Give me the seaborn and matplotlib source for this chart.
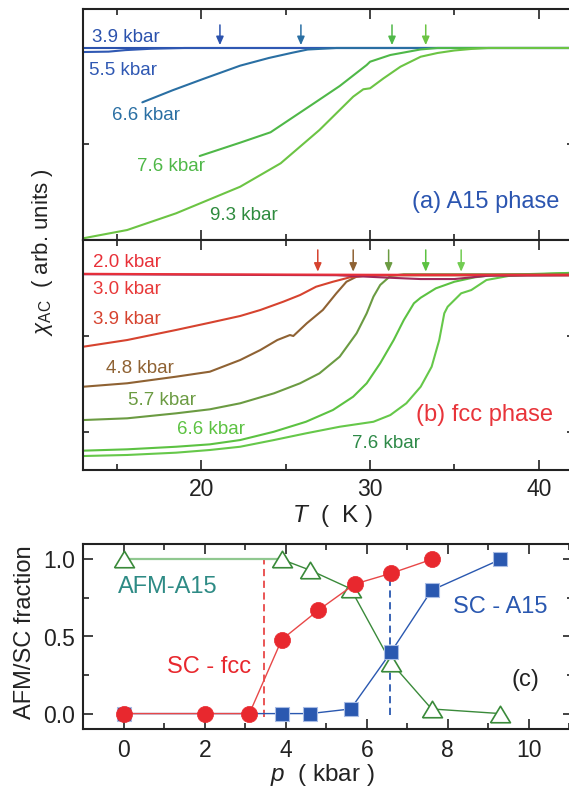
import matplotlib
matplotlib.use('Agg')
import matplotlib.pyplot as plt
from matplotlib.ticker import MultipleLocator, NullFormatter
import seaborn as sns

sns.set_style('ticks')
plt.rcParams['font.family'] = ['Liberation Sans', 'DejaVu Sans']
plt.rcParams['mathtext.fontset'] = 'custom'
plt.rcParams['mathtext.rm'] = 'Liberation Sans'
plt.rcParams['mathtext.it'] = 'Liberation Sans:italic'
plt.rcParams['mathtext.bf'] = 'Liberation Sans:bold'

# ---------------- data : panel (a) A15 phase ----------------
a15_labels = ['3.9 kbar', '5.5 kbar', '6.6 kbar', '7.6 kbar', '9.3 kbar']
a39_T = [13, 42]
a39_chi = [2.0, 2.0]
a55_T = [13, 14.5, 15.5, 17, 19, 42]
a55_chi = [1.958, 1.962, 1.978, 1.992, 2.0, 2.0]
a66_T = [16.5, 18.3, 20.1, 22.3, 24.0, 25.4, 26.3, 28, 42]
a66_chi = [1.434, 1.56, 1.677, 1.816, 1.896, 1.951, 1.984, 2.0, 2.0]
a76_T = [19.9, 22.3, 24.1, 25.25, 26.7, 28.2, 29.8, 30.0, 31.2, 33.0, 34, 42]
a76_chi = [0.875, 1.014, 1.122, 1.257, 1.427, 1.604, 1.823, 1.857, 1.927, 1.985, 2.0, 2.0]
a93_T = [13, 15.6, 18.5, 22.3, 24.7, 27.0, 29.0, 29.6, 30.0, 30.8, 31.8, 33.0, 34, 35, 36, 37, 42]
a93_chi = [0.018, 0.104, 0.278, 0.555, 0.799, 1.146, 1.493, 1.57, 1.58, 1.684, 1.805,
           1.909, 1.948, 1.974, 1.99, 2.0, 2.0]
a15_arrow_T = [21.1, 25.9, 31.3, 33.3]

# ---------------- data : panel (b) fcc phase ----------------
fcc_labels = ['2.0 kbar', '3.0 kbar', '3.9 kbar', '4.8 kbar', '5.7 kbar', '6.6 kbar', '7.6 kbar']
f20_T = [13, 20, 30, 42]
f20_chi = [1.65, 1.645, 1.64, 1.64]
f30_T = [13, 20, 28, 31, 33, 35, 37, 42]
f30_chi = [1.645, 1.64, 1.635, 1.61, 1.595, 1.595, 1.63, 1.635]
f39_T = [13, 15.6, 18.5, 20.5, 22.3, 23.5, 24.85, 25.85, 26.8, 27.8, 28.8, 30, 42]
f39_chi = [0.888, 0.958, 1.063, 1.139, 1.209, 1.272, 1.358, 1.428, 1.515, 1.567, 1.613, 1.635, 1.635]
f48_T = [13, 15.6, 18.5, 20.5, 22.3, 23.5, 24.5, 25.25, 25.45, 26.25, 27.2, 28.0, 28.6, 29.2, 30, 42]
f48_chi = [0.47, 0.506, 0.575, 0.627, 0.749, 0.854, 0.958, 1.010, 1.00, 1.133, 1.272, 1.446,
           1.567, 1.620, 1.635, 1.635]
f57_T = [13, 15.6, 18.5, 20.5, 22.3, 24.3, 25.85, 27.0, 28.2, 29.2, 29.8, 30.2, 30.6, 31.2, 32, 42]
f57_chi = [0.122, 0.14, 0.192, 0.234, 0.297, 0.401, 0.506, 0.61, 0.784, 1.028, 1.237, 1.411,
           1.533, 1.627, 1.645, 1.645]
f66_T = [13, 15.6, 18.5, 20.5, 22.3, 24.3, 26.2, 27.8, 29.0, 29.8, 30.6, 31.4, 32.0, 32.6,
         33.0, 33.9, 35.0, 36.2, 37.3, 39, 42]
f66_chi = [-0.198, -0.184, -0.157, -0.132, -0.087, 0.0, 0.104, 0.227, 0.366, 0.506, 0.715,
           0.958, 1.167, 1.342, 1.40, 1.498, 1.567, 1.613, 1.637, 1.645, 1.66]
f76_T = [13, 15.6, 18.5, 20.5, 22.3, 24.3, 26.2, 28.2, 30.2, 31.2, 32.15, 33.0, 33.65, 34.1,
         34.4, 34.6, 35.4, 36.0, 36.9, 38.2, 40, 42]
f76_chi = [-0.254, -0.243, -0.219, -0.191, -0.157, -0.087, -0.017, 0.052, 0.104, 0.174, 0.297,
           0.47, 0.679, 0.958, 1.237, 1.306, 1.446, 1.48, 1.585, 1.627, 1.645, 1.66]
fcc_arrow_T = [26.9, 29.0, 31.1, 33.3, 35.4]

# ---------------- data : panel (c) fractions ----------------
afm_p = [0, 3.9, 4.6, 5.6, 6.6, 7.6, 9.3]
afm_frac = [1.0, 1.0, 0.93, 0.81, 0.33, 0.03, 0.0]
scfcc_p = [0, 2.0, 3.1, 3.9, 4.8, 5.7, 6.6, 7.6]
scfcc_frac = [0.0, 0.0, 0.0, 0.48, 0.67, 0.84, 0.91, 1.0]
sca15_p = [0, 3.9, 4.6, 5.6, 6.6, 7.6, 9.3]
sca15_frac = [0.0, 0.0, 0.0, 0.03, 0.40, 0.80, 1.0]
fcc_onset_p = 3.45
a15_onset_p = 6.58

# ---------------- figure ----------------
W, H = 569, 787
fig = plt.figure(figsize=(W / 100, H / 100), dpi=100)


def box(l, t, r, b):
    return [l / W, 1 - b / H, (r - l) / W, (b - t) / H]


def px(x, y):
    return x / W, 1 - y / H


axa = fig.add_axes(box(83.3, 9.3, 572.5, 240))
axb = fig.add_axes(box(83.3, 240, 572.5, 470))
axc = fig.add_axes(box(83.3, 544, 573.4, 729))

frame_c = '#222222'
for ax in (axa, axb, axc):
    for s in ax.spines.values():
        s.set_linewidth(1.5)
        s.set_color(frame_c)
    ax.tick_params(which='both', direction='in', top=True, right=True,
                   color=frame_c, width=1.2, labelsize=16.5, labelcolor='#222222')
    ax.tick_params(which='major', length=7)
    ax.tick_params(which='minor', length=4.3)

# panel (a)
c39, c55, c66, c76a, c93 = '#2b52ad', '#2f58b3', '#2a6fa3', '#4fb848', '#6cc444'
for T, chi, c in [(a39_T, a39_chi, c39), (a55_T, a55_chi, c55), (a66_T, a66_chi, c66),
                  (a76_T, a76_chi, c76a), (a93_T, a93_chi, c93)]:
    sns.lineplot(x=T, y=chi, ax=axa, color=c, lw=1.5, sort=False, estimator=None)
for T, c in zip(a15_arrow_T, [c39, c66, c76a, c93]):
    axa.annotate('', xy=(T, 2.03), xytext=(T, 2.24),
                 arrowprops=dict(arrowstyle='-|>,head_length=0.5,head_width=0.22',
                                 color=c, lw=1.1, shrinkA=0, shrinkB=0))
axa.set_xlim(13, 42)
axa.set_ylim(0, 2.403)
axa.set_yticks([1, 2])
axa.yaxis.set_major_formatter(NullFormatter())
axa.tick_params(axis='y', which='major', length=4.3)
axa.xaxis.set_major_locator(MultipleLocator(10))
axa.xaxis.set_minor_locator(MultipleLocator(5))
axa.xaxis.set_major_formatter(NullFormatter())
axa.set_xlabel('')
axa.set_ylabel('')

# panel (b)
c20, c30, c39b, c48, c57, c66b, c76b = ('#e8303a', '#a0285a', '#d6432f', '#8f6233',
                                         '#6b9b42', '#5cc242', '#66c84a')
for T, chi, c in [(f76_T, f76_chi, c76b), (f66_T, f66_chi, c66b), (f57_T, f57_chi, c57),
                  (f48_T, f48_chi, c48), (f39_T, f39_chi, c39b), (f30_T, f30_chi, c30),
                  (f20_T, f20_chi, c20)]:
    sns.lineplot(x=T, y=chi, ax=axb, color=c, lw=1.5, sort=False, estimator=None)
for T, c in zip(fcc_arrow_T, [c39b, c48, c57, c66b, '#72cc52']):
    axb.annotate('', xy=(T, 1.672), xytext=(T, 1.899),
                 arrowprops=dict(arrowstyle='-|>,head_length=0.5,head_width=0.22',
                                 color=c, lw=1.1, shrinkA=0, shrinkB=0))
axb.set_xlim(13, 42)
axb.set_ylim(-0.4, 2.003)
axb.set_yticks([0, 1])
axb.yaxis.set_major_formatter(NullFormatter())
axb.tick_params(axis='y', which='major', length=4.3)
axb.xaxis.set_major_locator(MultipleLocator(10))
axb.xaxis.set_minor_locator(MultipleLocator(5))
axb.tick_params(axis='x', pad=6)
axb.set_xlabel('')
axb.set_ylabel('')

# panel (c)
green_d, green_l = '#3a8a3a', '#90c890'
red_c, blue_c = '#e8282e', '#2a58b0'
sns.lineplot(x=afm_p[:2], y=afm_frac[:2], ax=axc, color=green_l, lw=1.6,
             sort=False, estimator=None, zorder=2)
sns.lineplot(x=afm_p[1:], y=afm_frac[1:], ax=axc, color=green_d, lw=1.0,
             sort=False, estimator=None, zorder=2)
tri = [(-1, -0.83), (1, -0.83), (0, 0.83), (-1, -0.83)]
sns.scatterplot(x=afm_p, y=afm_frac, ax=axc, marker=tri, s=205, facecolor='white',
                edgecolor=green_d, linewidth=1.2, zorder=3)
sns.lineplot(x=sca15_p, y=sca15_frac, ax=axc, color=blue_c, lw=1.0,
             sort=False, estimator=None, zorder=4)
sns.scatterplot(x=sca15_p, y=sca15_frac, ax=axc, marker='s', s=110, color=blue_c,
                edgecolor='#a8bce4', linewidth=0.8, zorder=5)
sns.lineplot(x=scfcc_p, y=scfcc_frac, ax=axc, color='#e84848', lw=1.0,
             sort=False, estimator=None, zorder=6)
sns.scatterplot(x=scfcc_p, y=scfcc_frac, ax=axc, marker='o', s=135, color=red_c,
                edgecolor=red_c, linewidth=0.5, zorder=7)
axc.plot([fcc_onset_p, fcc_onset_p], [-0.02, 1.0], color='#e84848', lw=1.3,
         dashes=(4, 2.5), zorder=1)
axc.plot([a15_onset_p, a15_onset_p], [-0.01, 0.98], color=blue_c, lw=1.3,
         dashes=(4, 2.5), zorder=1)
axc.set_xlim(-1, 11.1)
axc.set_ylim(-0.1, 1.1)
axc.xaxis.set_major_locator(MultipleLocator(2))
axc.xaxis.set_minor_locator(MultipleLocator(1))
axc.yaxis.set_major_locator(MultipleLocator(0.5))
axc.yaxis.set_minor_locator(MultipleLocator(0.25))
axc.set_xticks([0, 2, 4, 6, 8, 10])
axc.set_xticklabels(['0', '2', '4', '6', '8', '10'])
axc.set_yticks([0, 0.5, 1.0])
axc.set_yticklabels(['0.0', '0.5', '1.0'])
axc.tick_params(axis='x', pad=7)
axc.tick_params(axis='y', pad=6)
axc.set_xlabel('')
axc.set_ylabel('')

# ---------------- texts ----------------
fs_k = 13.5
for lab, (x, y), c in zip(a15_labels,
                          [(91.7, 37.3), (89.3, 70.7), (111.7, 115), (136.7, 166.7), (210, 216)],
                          ['#2b52ad', '#2f58b3', '#2a6fa3', '#4fb848', '#2e8b3e']):
    fig.text(*px(x, y), lab, color=c, fontsize=fs_k, ha='left', va='center')
fig.text(*px(412, 201.7), '(a) A15 phase', color='#2b55b0', fontsize=17, ha='left', va='center')

for lab, (x, y), c in zip(fcc_labels,
                          [(93.3, 262.7), (93.3, 289.3), (93.3, 320), (106, 368.3),
                           (128.3, 400.7), (176.7, 429.3), (351.7, 444)],
                          ['#e83038', '#e83838', '#d6432f', '#8f6233', '#6b9b42', '#5cc242',
                           '#2e8a48']):
    fig.text(*px(x, y), lab, color=c, fontsize=fs_k, ha='left', va='center')
fig.text(*px(415.5, 415), '(b) fcc phase', color='#e8343a', fontsize=17, ha='left', va='center')

fig.text(*px(43, 252), r'$\chi_{\mathrm{AC}}$  ( arb. units )', rotation=90, fontsize=16,
         ha='center', va='center', color='#222222')
fig.text(*px(333, 516), r'$T$  (  K )', fontsize=17.5, ha='center', va='center', color='#222222')

fig.text(*px(118.3, 587.3), 'AFM-A15', color='#2e8b85', fontsize=17, ha='left', va='center')
fig.text(*px(166.7, 666.7), 'SC - fcc', color=red_c, fontsize=17, ha='left', va='center')
fig.text(*px(453, 606.7), 'SC - A15', color=blue_c, fontsize=17, ha='left', va='center')
fig.text(*px(511.7, 680), '(c)', color='#222222', fontsize=17, ha='left', va='center')
fig.text(*px(25, 632), 'AFM/SC fraction', rotation=90, fontsize=17, ha='center', va='center',
         color='#222222')
fig.text(*px(322, 775), r'$p$  ( kbar )', fontsize=17.5, ha='center', va='center',
         color='#222222')

fig.savefig('out.png', dpi=100)
